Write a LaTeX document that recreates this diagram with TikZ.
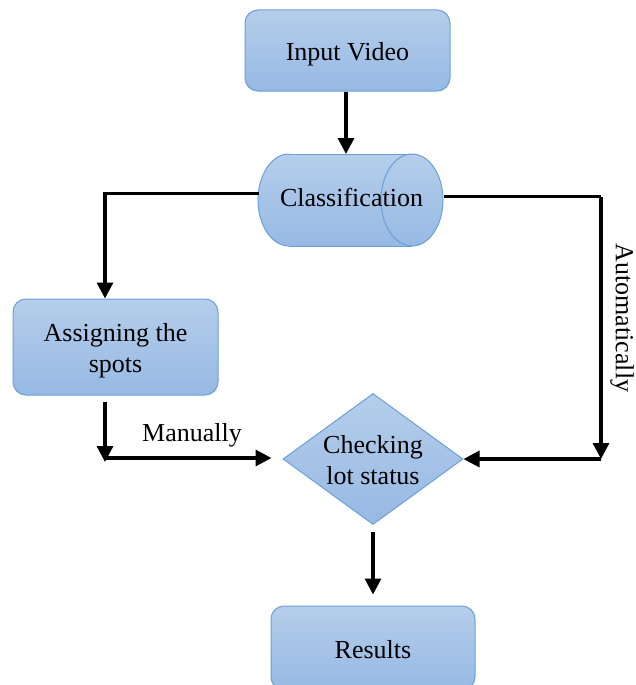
\documentclass[tikz,border=0pt]{standalone}
\usepackage{fontspec}
\setmainfont{Liberation Serif}
\usetikzlibrary{shapes.geometric,arrows.meta}
\definecolor{boxtop}{HTML}{B5CEEB}
\definecolor{boxbot}{HTML}{96B9E3}
\definecolor{boxline}{HTML}{6A9FD8}
\tikzset{
  txt/.style={font=\fontsize{26}{31}\selectfont, align=center, inner sep=0pt},
  block/.style={rectangle, rounded corners=13pt, draw=boxline, line width=1pt,
    top color=boxtop, bottom color=boxbot, inner sep=0pt},
  decision/.style={diamond, aspect=1.374, draw=boxline, line width=1pt,
    top color=boxtop, bottom color=boxbot, inner sep=0pt},
  cylfill/.style={top color=boxtop, bottom color=boxbot},
  cylline/.style={draw=boxline, line width=1pt},
  flow/.style={line width=3.3pt, -{Triangle[length=16pt,width=16pt]}},
  plain/.style={line width=3.3pt},
  lbl/.style={font=\fontsize{26}{31}\selectfont, inner sep=0pt}
}
\begin{document}
\begin{tikzpicture}[x=1pt,y=-1pt]
  \useasboundingbox (0,0) rectangle (636,685);
  \begin{scope}
    \clip (0,0) rectangle (636,685);

    % process boxes and their captions
    \node[block, minimum width=205pt, minimum height=81pt] (inp) at (347.5,50.5) {};
    \node[txt] (inpt) at ([yshift=-4pt]inp.center) {Input Video};
    \node[block, minimum width=205pt, minimum height=96pt] (asg) at (115.5,347) {};
    \node[txt] (asgt) at ([yshift=-4pt]asg.center) {Assigning the\\spots};
    \node[block, minimum width=204pt, minimum height=84pt] (res) at (373,648) {};
    \node[txt] (rest) at ([yshift=-2pt]res.center) {Results};

    % decision diamond
    \node[decision, minimum width=180pt, minimum height=131pt] (chk) at (373,459) {};
    \node[txt] (chkt) at ([yshift=-1pt]chk.center) {Checking\\lot status};

    % horizontal cylinder drawn from its parts
    \shade[cylfill] (289,200) ellipse [x radius=31pt, y radius=46pt];
    \shade[cylfill] (289,154) rectangle (412,246);
    \shade[cylfill] (412,200) ellipse [x radius=31pt, y radius=46pt];
    \begin{scope}
      \clip (240,140) rectangle (289,260);
      \draw[cylline] (289,200) ellipse [x radius=31pt, y radius=46pt];
    \end{scope}
    \draw[cylline] (289,154) -- (412,154) (289,246) -- (412,246);
    \draw[cylline] (412,200) ellipse [x radius=31pt, y radius=46pt];
    \node[txt, minimum width=185pt, minimum height=92pt] (cls) at (351.5,197) {Classification};

    % routing points
    \coordinate (lcorner) at (105,193.5);
    \coordinate (rtop) at (601,196.5);
    \coordinate (rbot) at (601,459);
    \coordinate (lbot) at (105,462);
    \coordinate (ljoin) at (105,458);

    % connectors
    \draw[flow] (inp.south -| 346,0) -- (346,154);
    \draw[flow] (cls.west |- lcorner) -- (lcorner) -- (lcorner |- asg.north);
    \draw[plain] (cls.east |- rtop) -- (rtop);
    \draw[flow] (rtop) -- (rbot);
    \draw[flow] (rbot) -- (chk.east);
    \draw[flow, shorten <=6pt] (lcorner |- asg.south) -- (lbot);
    \draw[flow, shorten >=11pt] (ljoin) -- (ljoin -| chk.west);
    \draw[flow, shorten <=7pt, shorten >=11pt] (chk.south) -- (res.north);

    % edge labels
    \node[lbl] (man) at (192,435) {Manually};
    \node[lbl, rotate=-90] (auto) at (622,318) {Automatically};
  \end{scope}
\end{tikzpicture}
\end{document}
